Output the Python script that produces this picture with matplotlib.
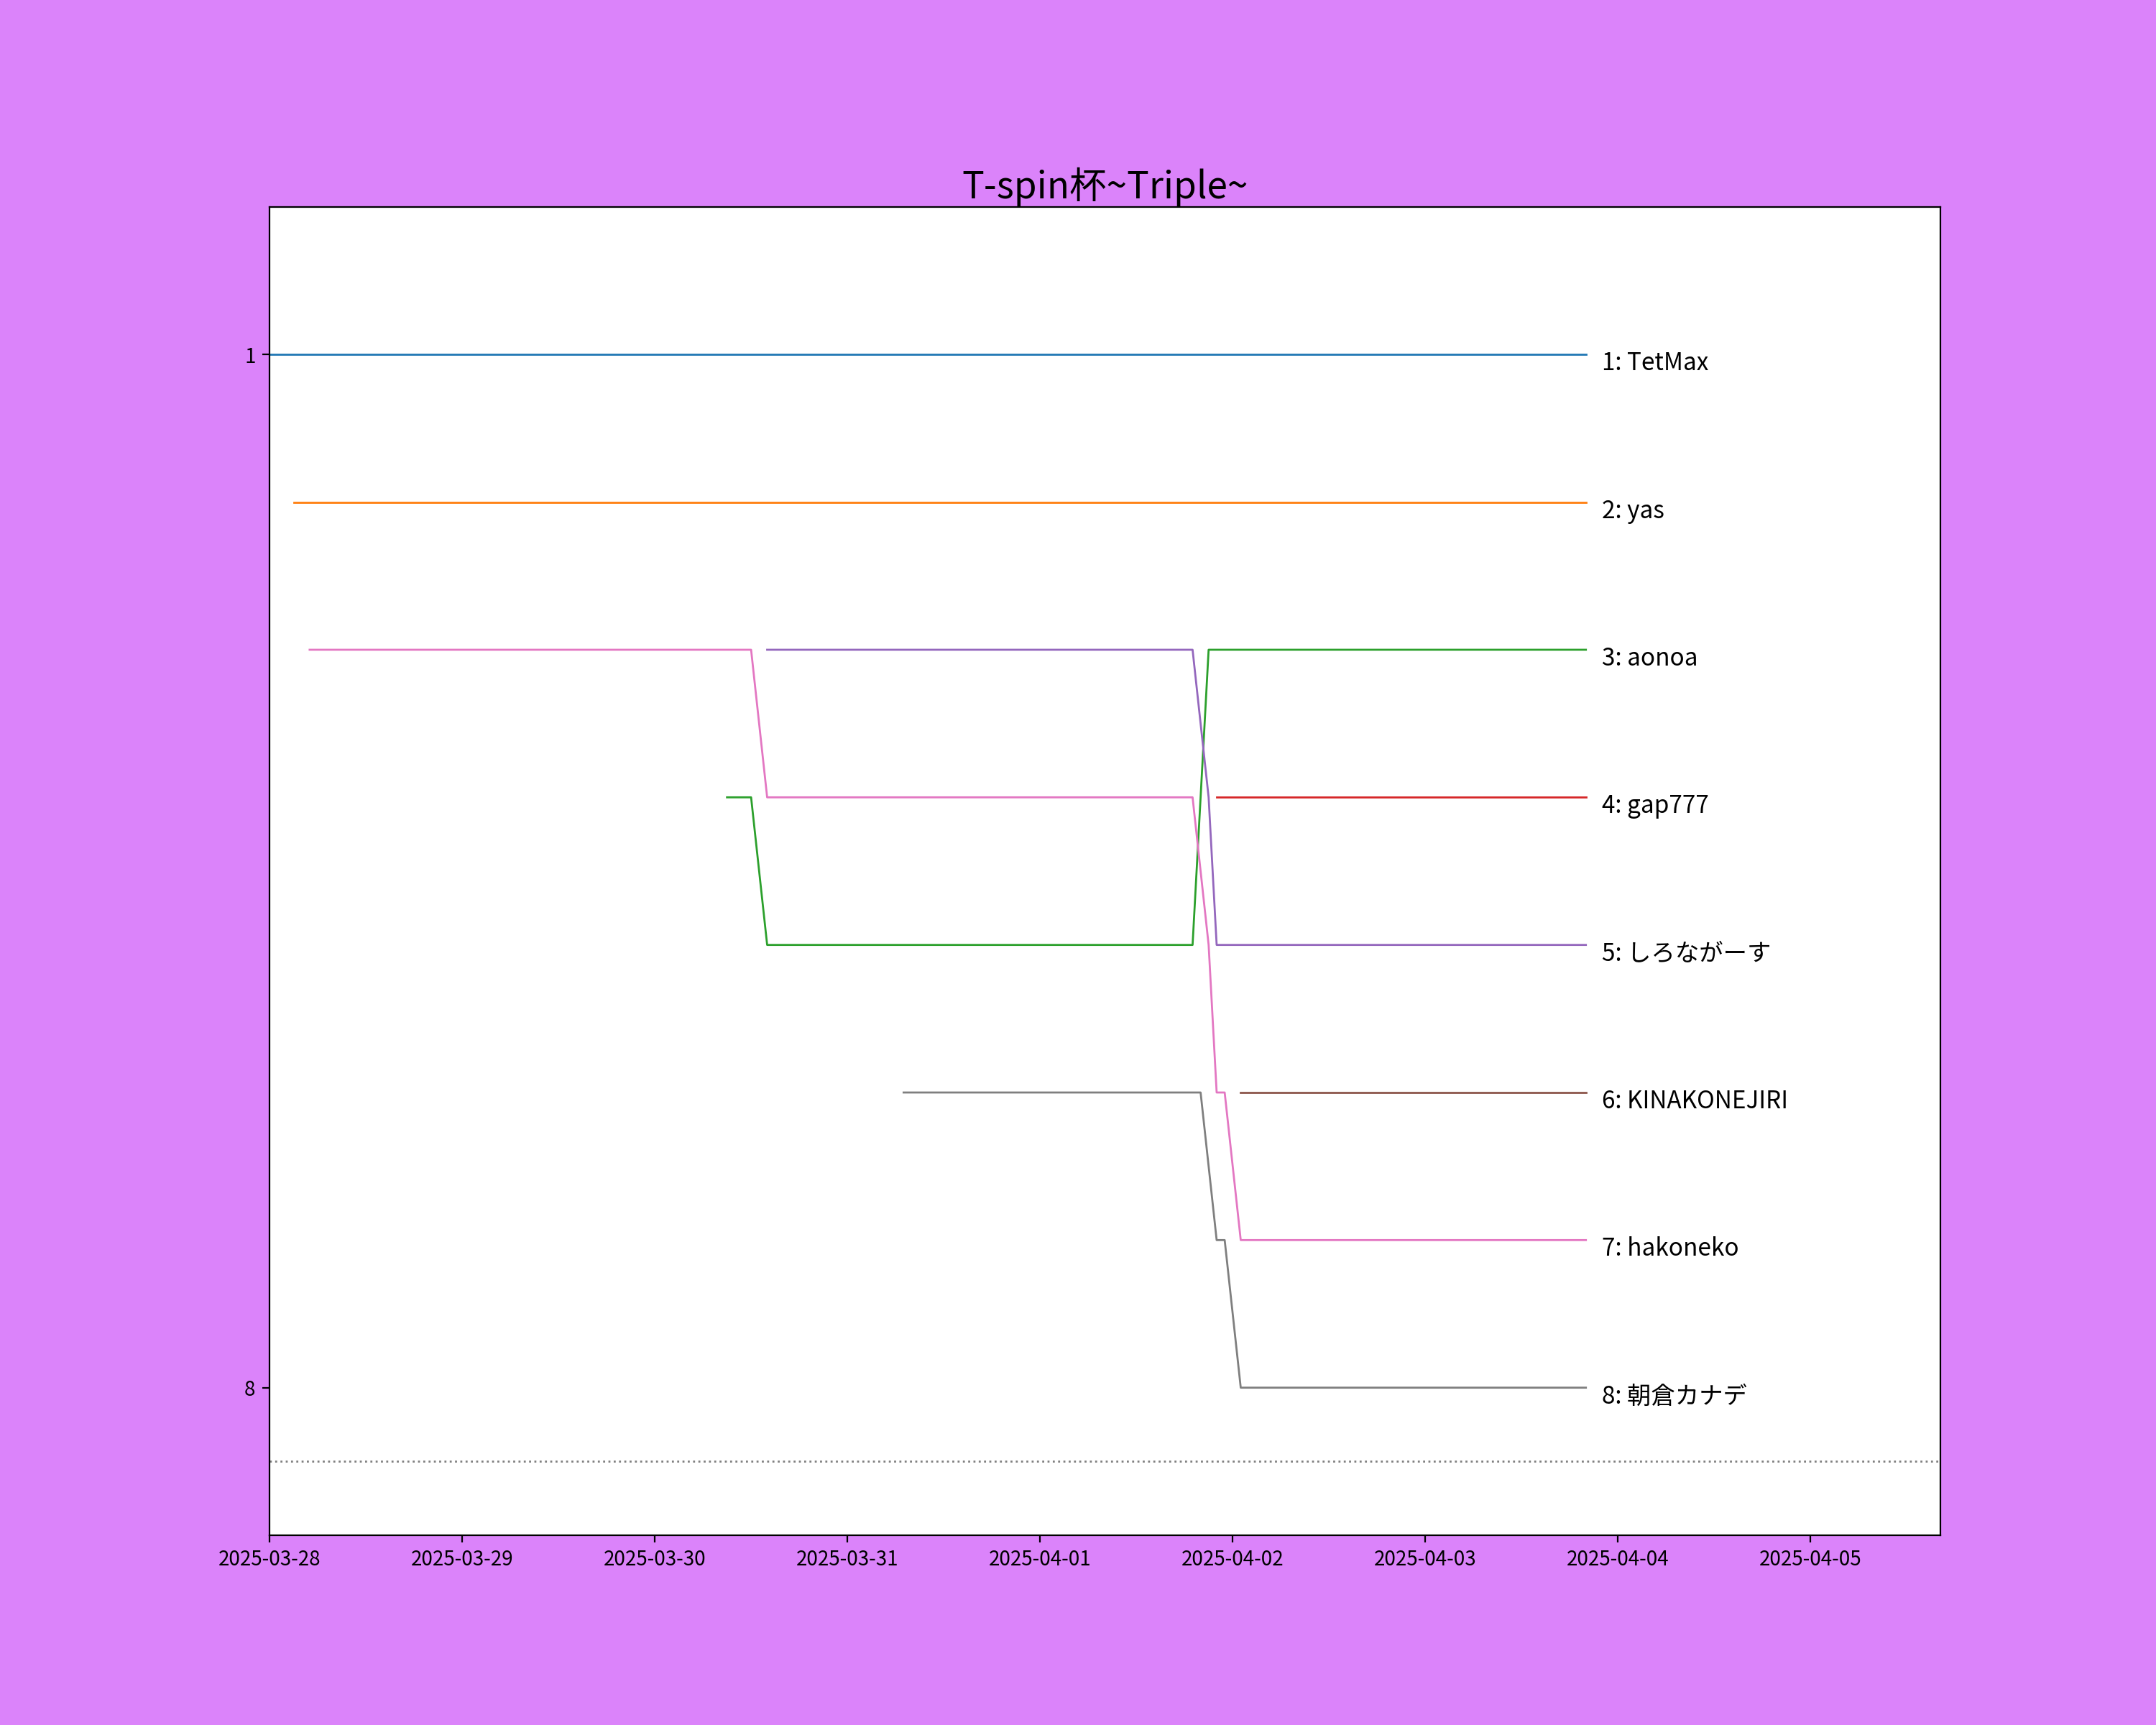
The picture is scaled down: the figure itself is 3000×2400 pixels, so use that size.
import matplotlib
matplotlib.use("Agg")
import matplotlib.pyplot as plt
import matplotlib.dates as mdates
import pandas as pd

title = "T-spin杯~Triple~"

players = ["TetMax", "yas", "aonoa", "gap777", "しろながーす", "KINAKONEJIRI", "hakoneko", "朝倉カナデ"]
final_ranks = [1, 2, 3, 4, 5, 6, 7, 8]

times_tetmax = ["2025-03-28 00:00", "2025-04-03 20:00"]
ranks_tetmax = [1, 1]

times_yas = ["2025-03-28 03:00", "2025-04-03 20:00"]
ranks_yas = [2, 2]

times_aonoa = ["2025-03-30 09:00", "2025-03-30 12:00", "2025-03-30 14:00", "2025-04-01 19:00",
               "2025-04-01 21:00", "2025-04-03 20:00"]
ranks_aonoa = [4, 4, 5, 5, 3, 3]

times_gap = ["2025-04-01 22:00", "2025-04-03 20:00"]
ranks_gap = [4, 4]

times_shiro = ["2025-03-30 14:00", "2025-04-01 19:00", "2025-04-01 21:00", "2025-04-01 22:00",
               "2025-04-03 20:00"]
ranks_shiro = [3, 3, 4, 5, 5]

times_kina = ["2025-04-02 01:00", "2025-04-03 20:00"]
ranks_kina = [6, 6]

times_hako = ["2025-03-28 05:00", "2025-03-30 12:00", "2025-03-30 14:00", "2025-04-01 19:00",
              "2025-04-01 21:00", "2025-04-01 22:00", "2025-04-01 23:00", "2025-04-02 01:00",
              "2025-04-03 20:00"]
ranks_hako = [3, 3, 4, 4, 5, 6, 6, 7, 7]

times_asakura = ["2025-03-31 07:00", "2025-04-01 20:00", "2025-04-01 22:00", "2025-04-01 23:00",
                 "2025-04-02 01:00", "2025-04-03 20:00"]
ranks_asakura = [6, 6, 7, 7, 8, 8]

series_times = [times_tetmax, times_yas, times_aonoa, times_gap, times_shiro, times_kina, times_hako, times_asakura]
series_ranks = [ranks_tetmax, ranks_yas, ranks_aonoa, ranks_gap, ranks_shiro, ranks_kina, ranks_hako, ranks_asakura]

cutoff_rank = 8.5
x_start = "2025-03-28 00:00"
x_end = "2025-04-05 16:10"

cjk = ["Noto Sans CJK JP", "DejaVu Sans"]
plt.rcParams["font.family"] = cjk

fig = plt.figure(figsize=(15, 12), dpi=200, facecolor="#db83fa")
ax = fig.add_subplot(111)
ax.set_facecolor("white")

colors = plt.rcParams["axes.prop_cycle"].by_key()["color"]

for i, (name, t, r) in enumerate(zip(players, series_times, series_ranks)):
    tt = pd.to_datetime(t)
    ax.plot(tt, r, color=colors[i % len(colors)], lw=1.0)
    ax.annotate(f"{final_ranks[i]}: {name}", xy=(tt[-1], final_ranks[i]),
                xytext=(8, -4.5), textcoords="offset points",
                va="center", ha="left", fontsize=12)

ax.axhline(cutoff_rank, color="gray", lw=1.0, ls=":")

ax.set_xlim(pd.Timestamp(x_start), pd.Timestamp(x_end))
ax.set_ylim(9, 0)
ax.set_yticks([1, 8])
ax.xaxis.set_major_locator(mdates.DayLocator())
ax.xaxis.set_major_formatter(mdates.DateFormatter("%Y-%m-%d"))
ax.tick_params(labelsize=10)
ax.set_title(title, fontsize=18.5, pad=3)

fig.savefig("out.png", dpi=200, facecolor=fig.get_facecolor())
